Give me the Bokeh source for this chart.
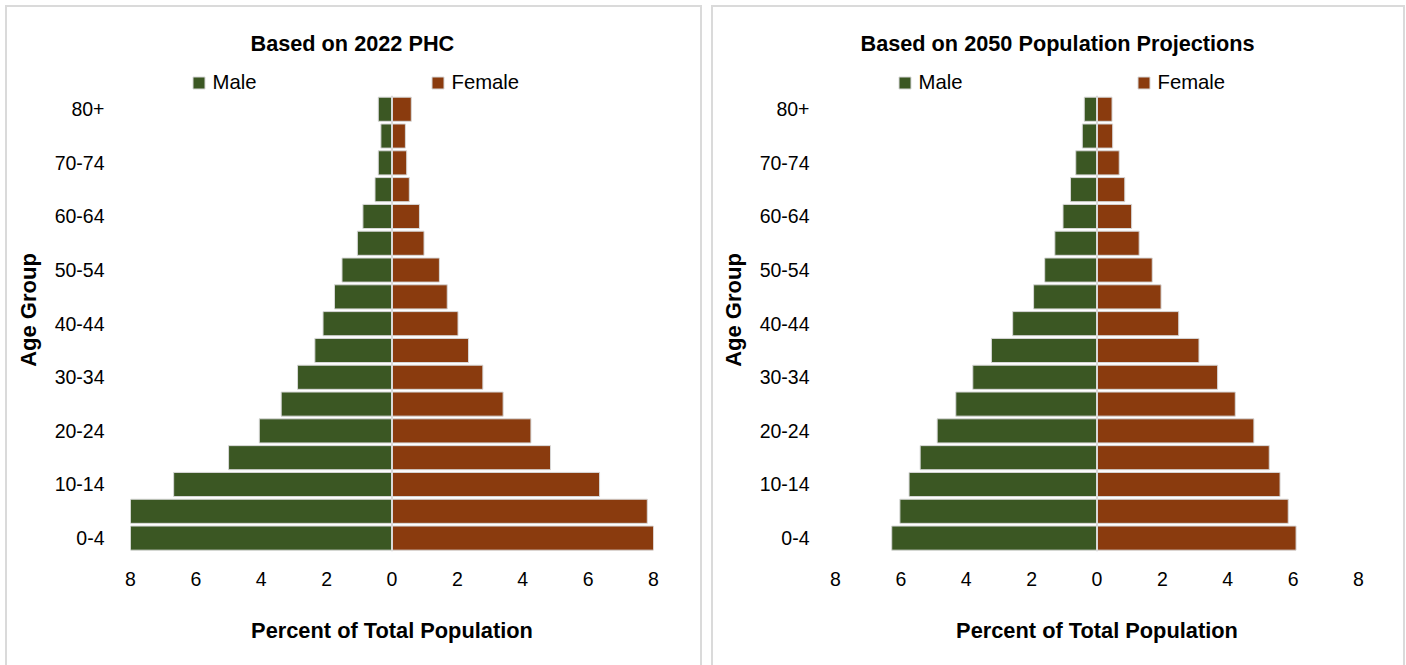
from bokeh.plotting import figure
from bokeh.models import FixedTicker, Legend, LegendItem, ColumnDataSource, Range1d, Spacer
from bokeh.layouts import row, column
from bokeh.embed import file_html
from bokeh.resources import INLINE

# ---------------- data ----------------
age_groups = ["0-4", "5-9", "10-14", "15-19", "20-24", "25-29", "30-34", "35-39",
              "40-44", "45-49", "50-54", "55-59", "60-64", "65-69", "70-74", "75-79", "80+"]

male_2022 = [8.3, 8.1, 6.68, 5.0, 4.06, 3.39, 2.89, 2.36, 2.11, 1.76, 1.53, 1.06, 0.89, 0.52, 0.42, 0.34, 0.42]
female_2022 = [8.09, 7.81, 6.35, 4.85, 4.25, 3.40, 2.78, 2.34, 2.02, 1.69, 1.45, 0.98, 0.84, 0.53, 0.45, 0.41, 0.59]

male_2050 = [6.28, 6.03, 5.75, 5.41, 4.89, 4.32, 3.80, 3.23, 2.58, 1.94, 1.60, 1.29, 1.04, 0.81, 0.65, 0.45, 0.39]
female_2050 = [6.09, 5.85, 5.60, 5.27, 4.80, 4.23, 3.69, 3.12, 2.50, 1.96, 1.69, 1.29, 1.06, 0.85, 0.68, 0.48, 0.46]

x_tick_values = [-8, -6, -4, -2, 0, 2, 4, 6, 8]
x_tick_labels = ["8", "6", "4", "2", "0", "2", "4", "6", "8"]

titles = ["Based on 2022 PHC", "Based on 2050 Population Projections"]
series_names = ["Male", "Female"]
x_axis_title = "Percent of Total Population"
y_axis_title = "Age Group"

MALE_COLOR = "#3b5723"
FEMALE_COLOR = "#8a3b0e"
FONT = "Liberation Sans"
BORDER = "#dadada"
LEGEND_ROOM = 1.02  # extra room (in rows) above the bars for the legend


def make_panel(title, male, female, width, border_left, border_right, title_offset, legend_x):
    n = len(age_groups)
    src = ColumnDataSource(dict(
        y=list(range(n)),
        male_left=[-v for v in male],
        zero=[0] * n,
        female_right=female,
    ))
    p = figure(width=width, height=660, x_range=Range1d(-8, 8),
               y_range=Range1d(-0.5, n - 0.5 + LEGEND_ROOM),
               output_backend="svg", toolbar_location=None,
               min_border_left=border_left, min_border_right=border_right,
               min_border_top=63, min_border_bottom=114)
    p.border_fill_color = None
    p.background_fill_color = None
    p.outline_line_color = None
    p.grid.visible = False

    r_m = p.hbar(y="y", left="male_left", right="zero", height=0.9, source=src,
                 fill_color=MALE_COLOR, line_color="#d8d8d8", line_width=1)
    r_f = p.hbar(y="y", left="zero", right="female_right", height=0.9, source=src,
                 fill_color=FEMALE_COLOR, line_color="#d8d8d8", line_width=1)

    # vertical category axis line at x = 0, spanning the bars
    p.segment(x0=[0], y0=[-0.5], x1=[0], y1=[n - 0.5], line_color="#d9d9d9", line_width=2)

    # title
    p.title.text = title
    p.title.align = "left"
    p.title.offset = title_offset
    p.title.text_font = FONT
    p.title.text_font_size = "21.7px"
    p.title.text_font_style = "bold"
    p.title.text_color = "black"
    p.title.standoff = 26

    # x axis
    xa = p.xaxis[0]
    xa.ticker = FixedTicker(ticks=x_tick_values)
    xa.major_label_overrides = dict(zip(x_tick_values, x_tick_labels))
    xa.axis_line_color = None
    xa.major_tick_line_color = None
    xa.minor_tick_line_color = None
    xa.major_tick_out = 0
    xa.major_label_standoff = 20
    xa.major_label_text_font = FONT
    xa.major_label_text_font_size = "19.5px"
    xa.major_label_text_color = "black"
    xa.axis_label = x_axis_title
    xa.axis_label_text_font = FONT
    xa.axis_label_text_font_size = "21.8px"
    xa.axis_label_text_font_style = "bold"
    xa.axis_label_text_color = "black"
    xa.axis_label_standoff = 29

    # y axis
    ya = p.yaxis[0]
    ya.ticker = FixedTicker(ticks=list(range(0, n, 2)))
    ya.major_label_overrides = {i: age_groups[i] for i in range(0, n, 2)}
    ya.axis_line_color = None
    ya.major_tick_line_color = None
    ya.minor_tick_line_color = None
    ya.major_tick_out = 0
    ya.major_label_standoff = 26
    ya.major_label_text_font = FONT
    ya.major_label_text_font_size = "19.5px"
    ya.major_label_text_color = "black"
    ya.axis_label = y_axis_title
    ya.axis_label_text_font = FONT
    ya.axis_label_text_font_size = "22px"
    ya.axis_label_text_font_style = "bold"
    ya.axis_label_text_color = "black"
    ya.axis_label_standoff = 11

    legend = Legend(items=[LegendItem(label=series_names[0], renderers=[r_m]),
                           LegendItem(label=series_names[1], renderers=[r_f])],
                    orientation="horizontal", location=(legend_x, 457))
    legend.border_line_color = None
    legend.background_fill_alpha = 0
    legend.padding = 0
    legend.margin = 0
    legend.glyph_width = 15
    legend.glyph_height = 15
    legend.label_standoff = 7
    legend.label_width = 130
    legend.spacing = 87
    legend.label_text_font = FONT
    legend.label_text_font_size = "20.3px"
    legend.label_text_color = "black"
    p.add_layout(legend, "center")

    p.styles = {"box-shadow": f"inset 2px 0 0 {BORDER}, inset -2px 0 0 {BORDER}, inset 0 2px 0 {BORDER}"}
    return p


p1 = make_panel(titles[0], male_2022, female_2022, 697, 125, 49, 120, 60.5)
p2 = make_panel(titles[1], male_2050, female_2050, 694, 124, 47, 25, 61.5)

layout = column(Spacer(height=5),
                row(Spacer(width=5), p1, Spacer(width=9), p2))
open("out.html", "w").write(file_html(layout, INLINE))
